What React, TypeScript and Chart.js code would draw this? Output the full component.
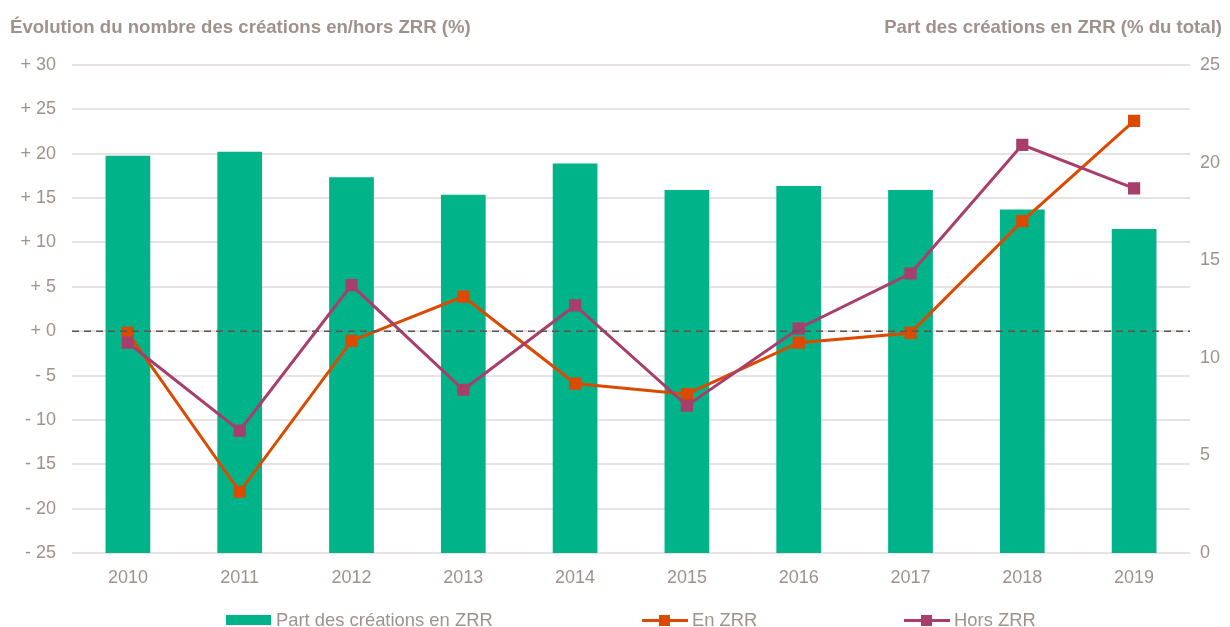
import React, { useEffect, useRef } from "react";
import { Chart, registerables } from "chart.js";

Chart.register(...registerables);

const years = ["2010", "2011", "2012", "2013", "2014", "2015", "2016", "2017", "2018", "2019"];
const partZRR = [20.35, 20.55, 19.25, 18.35, 19.95, 18.6, 18.8, 18.6, 17.6, 16.6];
const enZRR = [-0.2, -18.1, -1.1, 3.9, -5.9, -7.1, -1.3, -0.2, 12.4, 23.7];
const horsZRR = [-1.3, -11.2, 5.2, -6.6, 2.9, -8.4, 0.3, 6.5, 21.0, 16.1];

const leftTitle = "Évolution du nombre des créations en/hors ZRR (%)";
const rightTitle = "Part des créations en ZRR (% du total)";
const legendBar = "Part des créations en ZRR";
const legendEn = "En ZRR";
const legendHors = "Hors ZRR";

const GREEN = "#00b388";
const ORANGE = "#dc4a00";
const PURPLE = "#a83e6b";
const TEXT = "#a0918c";
const GRID = "#e8e2e3";
const FONT = "'Liberation Sans', Arial, sans-serif";

const zeroLine = {
  id: "zeroLine",
  afterDatasetsDraw(chart: any) {
    const y = chart.scales.y.getPixelForValue(0);
    const { left, right } = chart.chartArea;
    const ctx = chart.ctx;
    ctx.save();
    ctx.strokeStyle = "#5f5553";
    ctx.lineWidth = 1.5;
    ctx.setLineDash([7, 5]);
    ctx.beginPath();
    ctx.moveTo(left, y);
    ctx.lineTo(right, y);
    ctx.stroke();
    ctx.restore();
  },
};

export default function App() {
  const ref = useRef<HTMLCanvasElement>(null);
  useEffect(() => {
    document.body.style.margin = "0";
    const chart = new Chart(ref.current!, {
      data: {
        labels: years,
        datasets: [
          {
            type: "line",
            label: legendEn,
            data: enZRR,
            yAxisID: "y",
            borderColor: ORANGE,
            backgroundColor: ORANGE,
            borderWidth: 3,
            pointStyle: "rect",
            pointRadius: 6.5,
            pointHoverRadius: 6.5,
            order: 1,
          },
          {
            type: "line",
            label: legendHors,
            data: horsZRR,
            yAxisID: "y",
            borderColor: PURPLE,
            backgroundColor: PURPLE,
            borderWidth: 3,
            pointStyle: "rect",
            pointRadius: 6.5,
            pointHoverRadius: 6.5,
            order: 0,
          },
          {
            type: "bar",
            label: legendBar,
            data: partZRR,
            yAxisID: "y1",
            backgroundColor: GREEN,
            barPercentage: 0.4,
            categoryPercentage: 1,
            order: 3,
          },
        ],
      } as any,
      options: {
        animation: false,
        responsive: false,
        maintainAspectRatio: false,
        layout: { padding: { top: 65, bottom: 34, left: 0, right: 0 } },
        plugins: { legend: { display: false }, tooltip: { enabled: false } },
        scales: {
          x: {
            grid: { display: false },
            border: { display: false },
            ticks: { color: TEXT, font: { family: FONT, size: 18 }, padding: 6 },
            afterFit(s: any) { s.height = 40; },
          },
          y: {
            position: "left",
            min: -25,
            max: 30,
            grid: { color: GRID, lineWidth: 2, drawTicks: false },
            border: { display: false },
            ticks: {
              stepSize: 5,
              color: TEXT,
              font: { family: FONT, size: 18 },
              padding: 16,
              callback: (v: any) => (v >= 0 ? "+ " + v : "- " + Math.abs(v)),
            },
            afterFit(s: any) { s.width = 72; },
          },
          y1: {
            position: "right",
            min: 0,
            max: 25,
            grid: { display: false, drawTicks: false },
            border: { display: false },
            ticks: { stepSize: 5, color: TEXT, font: { family: FONT, size: 18 }, padding: 10 },
            afterFit(s: any) { s.width = 40; },
          },
        },
      },
      plugins: [zeroLine],
    });
    return () => chart.destroy();
  }, []);

  const txt: React.CSSProperties = { fontFamily: FONT, color: TEXT, fontSize: 18.4, whiteSpace: "nowrap" };
  return (
    <div style={{ position: "fixed", left: 0, top: 0, width: 1230, height: 627, background: "#fff" }}>
      <canvas ref={ref} width={1230} height={627} style={{ position: "absolute", left: 0, top: 0 }} />
      <div style={{ ...txt, fontSize: 18.6, position: "absolute", left: 10, top: 16, fontWeight: "bold", lineHeight: "22px" }}>{leftTitle}</div>
      <div style={{ ...txt, fontSize: 18.6, position: "absolute", right: 8, top: 16, fontWeight: "bold", lineHeight: "22px" }}>{rightTitle}</div>
      <div style={{ ...txt, position: "absolute", left: 226, top: 609, lineHeight: "22px", display: "flex", alignItems: "center" }}>
        <span style={{ display: "inline-block", width: 45, height: 10, background: GREEN, marginRight: 5 }} />
        <span>{legendBar}</span>
      </div>
      {[
        { x: 642, c: ORANGE, t: legendEn },
        { x: 904, c: PURPLE, t: legendHors },
      ].map((it) => (
        <div key={it.t} style={{ ...txt, position: "absolute", left: it.x, top: 609, lineHeight: "22px", display: "flex", alignItems: "center" }}>
          <span style={{ position: "relative", display: "inline-block", width: 46, height: 11, marginRight: 4 }}>
            <span style={{ position: "absolute", left: 0, top: 4, width: 46, height: 3, background: it.c }} />
            <span style={{ position: "absolute", left: 17, top: 0, width: 11, height: 11, background: it.c }} />
          </span>
          <span>{it.t}</span>
        </div>
      ))}
    </div>
  );
}
